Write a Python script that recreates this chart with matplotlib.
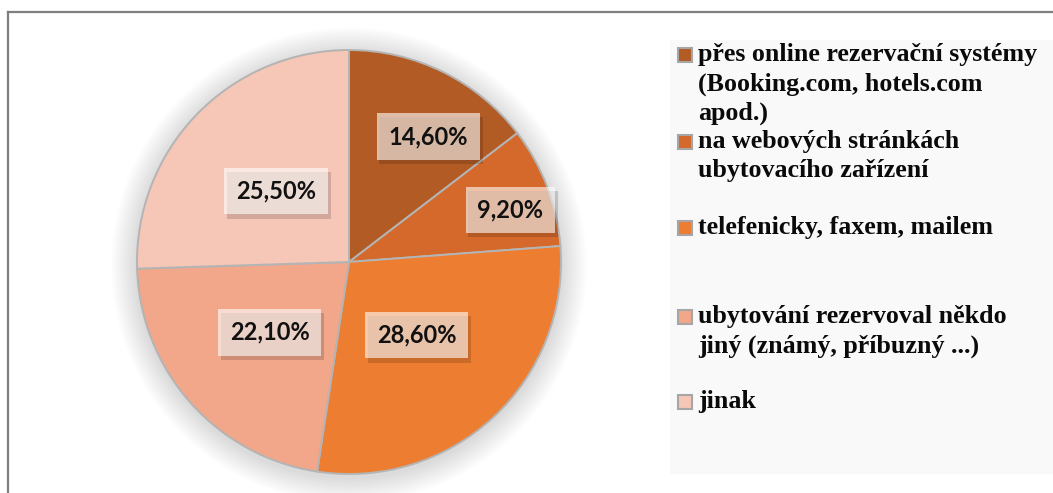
import matplotlib.pyplot as plt
import matplotlib.patheffects as pe
import numpy as np
from matplotlib.patches import Rectangle, Circle
from matplotlib.lines import Line2D

categories = [
    'přes online rezervační systémy\n(Booking.com, hotels.com\napod.)',
    'na webových stránkách\nubytovacího zařízení',
    'telefenicky, faxem, mailem',
    'ubytování rezervoval někdo\njiný (známý, příbuzný ...)',
    'jinak',
]
values = [14.6, 9.2, 28.6, 22.1, 25.5]
labels = ['14,60%', '9,20%', '28,60%', '22,10%', '25,50%']
colors = ['#b35b24', '#d4692b', '#ed7d31', '#f2a68a', '#f6c6b7']
label_dist = [0.70, 0.80, 0.47, 0.50, 0.48]
label_turn = [-6, -3, 0, 0, 0]

W, H = 1053, 493
fig = plt.figure(figsize=(W / 100, H / 100), dpi=100, facecolor='white')

# frame of the chart area (only top and left visible)
fig.add_artist(Line2D([8 / W, 8 / W], [0, 1 - 12 / H], color='#7f7f7f', lw=1.6))
fig.add_artist(Line2D([8 / W, 1], [1 - 12 / H, 1 - 12 / H], color='#7f7f7f', lw=1.6))

# legend background
fig.add_artist(Rectangle((670 / W, 1 - 474 / H), (W - 670) / W, (474 - 40) / H,
                         transform=fig.transFigure, facecolor='#f9f9f9',
                         edgecolor='none', zorder=0))

cx, cy, r = 349, 262, 212
ax = fig.add_axes([(cx - r) / W, (H - cy - r) / H, 2 * r / W, 2 * r / H])
ax.axis('off')

# soft shadow around the pie
for k in range(12):
    ax.add_patch(Circle((0.0, -0.015), 1.0 + 0.01 * (12 - k), facecolor='#000000',
                        alpha=0.01, edgecolor='none', zorder=0, clip_on=False))

wedges, _ = ax.pie(values, colors=colors, startangle=90, counterclock=False,
                   radius=1.0, wedgeprops=dict(edgecolor='#b4b4b4', linewidth=1.4))
ax.set_xlim(-1.0, 1.0)
ax.set_ylim(-1.0, 1.0)

for w, lab, d, t in zip(wedges, labels, label_dist, label_turn):
    th = np.deg2rad((w.theta1 + w.theta2) / 2 + t)
    x, y = d * np.cos(th), d * np.sin(th)
    txt = ax.text(x, y, lab, ha='center', va='center', fontsize=17, fontfamily='Lato',
                  fontweight='bold', color='#111111',
                  bbox=dict(boxstyle='square,pad=0.5', facecolor='#ffffff', alpha=0.6,
                            edgecolor='none'))
    txt.get_bbox_patch().set_path_effects([
        pe.SimplePatchShadow(offset=(2, -3), shadow_rgbFace='#000000', alpha=0.15),
        pe.Normal()])

# legend entries
entry_y = [55, 142, 228, 317, 402]
for cat, col, yy in zip(categories, colors, entry_y):
    fig.add_artist(Rectangle((678 / W, 1 - (yy + 7) / H), 14 / W, 14 / H,
                             transform=fig.transFigure, facecolor=col,
                             edgecolor='#a6a6a6', lw=1.5))
    fig.text(698 / W, 1 - (yy - 12) / H, cat, ha='left', va='top', fontsize=18.7,
             fontfamily='Liberation Serif', fontweight='bold', color='#0a0a0a',
             linespacing=1.35)

fig.savefig('out.png', dpi=100)
